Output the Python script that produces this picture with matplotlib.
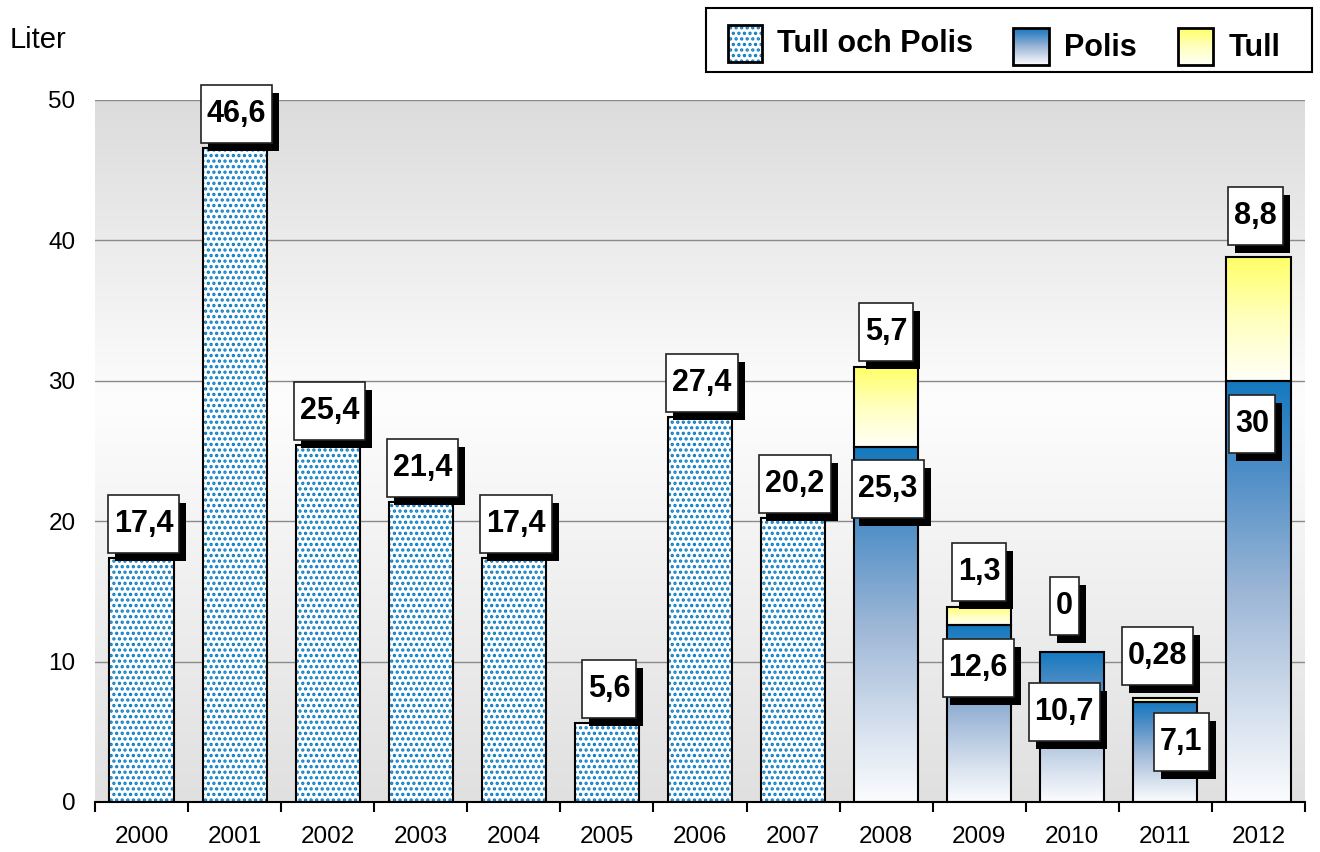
import numpy as np
import matplotlib
matplotlib.use('Agg')
from matplotlib import pyplot as plt
from matplotlib import patches
from matplotlib.colors import LinearSegmentedColormap
from matplotlib.transforms import IdentityTransform

plt.rcParams['font.family'] = ['Liberation Sans', 'DejaVu Sans']
plt.rcParams['hatch.linewidth'] = 1.6

# Data
years = ['2000', '2001', '2002', '2003', '2004', '2005', '2006',
         '2007', '2008', '2009', '2010', '2011', '2012']
tull_och_polis = [17.4, 46.6, 25.4, 21.4, 17.4, 5.6, 27.4, 20.2]   # 2000-2007
polis = [25.3, 12.6, 10.7, 7.1, 30]                                  # 2008-2012
tull = [5.7, 1.3, 0, 0.28, 8.8]                                      # 2008-2012

# label placement (pixels)
top_lbl_dy = 34
polis_lbl_dx = [2, -1, -8, 16, -6]
polis_lbl_dy = [-42, -43, -60, -40, -43]
tull_lbl_dx = [0, 0, -8, -8, -3]
tull_lbl_dy = [35, 35, 46, 42, 41]

W, H = 1320, 852
width = 0.69
dot_blue = '#0a7bc2'

def fmt(v):
    return ('%g' % v).replace('.', ',')

polis_cmap = LinearSegmentedColormap.from_list(
    'polis', [(0, '#fbfcfe'), (0.2, '#d8e2ef'), (0.5, '#9cb6d6'),
              (0.8, '#4a8cc6'), (1, '#1479bf')])
tull_cmap = LinearSegmentedColormap.from_list(
    'tull', [(0, '#fffff8'), (0.5, '#ffffbe'), (1, '#ffff66')])
bg_cmap = LinearSegmentedColormap.from_list(
    'bg', [(0, '#e0e0e0'), (0.57, '#fdfdfd'), (1, '#dcdcdc')])
grad = np.linspace(0, 1, 256).reshape(-1, 1)

fig = plt.figure(figsize=(W / 100, H / 100), dpi=100)
ax = fig.add_axes([95 / W, 1 - 802 / H, 1210 / W, 702 / H])

ax.imshow(grad, extent=(-0.5, 12.5, 0, 50), origin='lower', cmap=bg_cmap,
          aspect='auto', zorder=0)
ax.set_yticks([0, 10, 20, 30, 40, 50])
ax.yaxis.grid(True, color='#8a8a8a', lw=1)
ax.set_axisbelow(True)


def grad_bar(x, bottom, height, cmap):
    if height <= 0:
        return
    ax.imshow(grad, extent=(x - width / 2, x + width / 2, bottom, bottom + height),
              origin='lower', cmap=cmap, aspect='auto', zorder=2)
    ax.bar(x, height, width, bottom=bottom, fill=False, edgecolor='black',
           lw=1.5, zorder=3)


# dotted bars (Tull och Polis)
x_top = np.arange(len(tull_och_polis))
ax.bar(x_top, tull_och_polis, width, color='white', edgecolor=dot_blue,
       hatch='...', lw=0, zorder=2)
ax.bar(x_top, tull_och_polis, width, fill=False, edgecolor='black', lw=1.5, zorder=3)

# stacked gradient bars
x_st = np.arange(len(tull_och_polis), len(years))
for x, p, t in zip(x_st, polis, tull):
    grad_bar(x, 0, p, polis_cmap)
    grad_bar(x, p, t, tull_cmap)

ax.set_xlim(-0.5, 12.5)
ax.set_ylim(0, 50)
ax.set_xticks(np.arange(-0.5, 13, 1))
ax.set_xticklabels([])
ax.set_xticks(np.arange(len(years)), minor=True)
ax.set_xticklabels(years, minor=True)
ax.tick_params(axis='x', which='major', length=7, width=1.5, direction='out')
ax.tick_params(axis='x', which='minor', length=0, pad=17, labelsize=17.5)
ax.tick_params(axis='y', length=0, pad=14, labelsize=17.5)
for s in ['left', 'top', 'right']:
    ax.spines[s].set_visible(False)
ax.spines['bottom'].set_linewidth(1.5)

fig.text(10 / W, 1 - 40 / H, 'Liter', fontsize=21, va='center', ha='left')

# value labels with shadowed boxes
fig.canvas.draw()
renderer = fig.canvas.get_renderer()


def box_label(x, y, txt, dx, dy):
    px, py = ax.transData.transform((x, y))
    px += dx
    py += dy
    t = ax.text(px, py, txt, transform=IdentityTransform(), ha='center',
                va='center', fontsize=22, fontweight='bold', zorder=12,
                clip_on=False)
    bb = t.get_window_extent(renderer)
    w = bb.width + 12
    h = 58
    shadow = patches.Rectangle((px - w / 2 + 7, py - h / 2 - 8), w, h,
                               transform=IdentityTransform(), fc='black',
                               ec='none', zorder=10)
    box = patches.Rectangle((px - w / 2, py - h / 2), w, h,
                            transform=IdentityTransform(), fc='white',
                            ec='#222222', lw=1.2, zorder=11)
    for a in (shadow, box):
        ax.add_artist(a)
        a.set_clip_on(False)


for x, v in zip(x_top, tull_och_polis):
    box_label(x, v, fmt(v), 2, top_lbl_dy)
for i, (x, p, t) in enumerate(zip(x_st, polis, tull)):
    box_label(x, p, fmt(p), polis_lbl_dx[i], polis_lbl_dy[i])
    box_label(x, p + t, fmt(t), tull_lbl_dx[i], tull_lbl_dy[i])

# legend drawn in pixel space
lax = fig.add_axes([0, 0, 1, 1], zorder=5)
lax.patch.set_facecolor('none')
lax.add_patch(patches.Rectangle((706, 8), 606, 64, fc='white', ec='black', lw=1.5))
lax.add_patch(patches.Rectangle((728, 25), 34, 37, fc='white', ec=dot_blue,
                                hatch='...', lw=0))
lax.add_patch(patches.Rectangle((728, 25), 34, 37, fill=False, ec='black', lw=2))
lax.imshow(grad, extent=(1013, 1049, 65, 28), origin='lower', cmap=polis_cmap,
           aspect='auto', zorder=2)
lax.add_patch(patches.Rectangle((1013, 28), 36, 37, fill=False, ec='black', lw=2, zorder=3))
lax.imshow(grad, extent=(1178, 1213, 65, 28), origin='lower', cmap=tull_cmap,
           aspect='auto', zorder=2)
lax.add_patch(patches.Rectangle((1178, 28), 35, 37, fill=False, ec='black', lw=2, zorder=3))
lax.text(777, 44, 'Tull och Polis', fontsize=22, fontweight='bold', va='center')
lax.text(1064, 48, 'Polis', fontsize=22, fontweight='bold', va='center')
lax.text(1229, 48, 'Tull', fontsize=22, fontweight='bold', va='center')
lax.set_xlim(0, W)
lax.set_ylim(H, 0)
lax.axis('off')

fig.savefig('out.png', dpi=100)
